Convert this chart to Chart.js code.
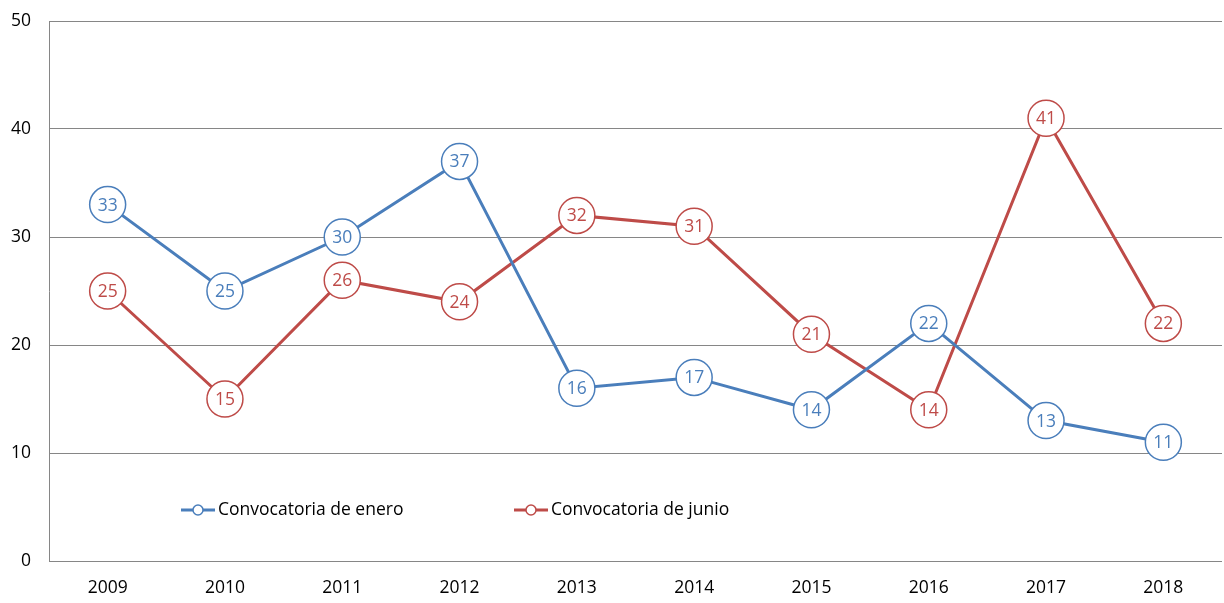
<!DOCTYPE html>
<html>
<head>
<meta charset="utf-8">
<script src="https://cdn.jsdelivr.net/npm/chart.js@4.4.0/dist/chart.umd.min.js"></script>
<style>
html,body{margin:0;padding:0;background:#fff;}
#wrap{width:1224px;height:603px;position:relative;}
</style>
</head>
<body>
<div id="wrap"><canvas id="c" width="1224" height="603"></canvas></div>
<script>
const categories = ['2009','2010','2011','2012','2013','2014','2015','2016','2017','2018'];
const enero = [33,25,30,37,16,17,14,22,13,11];
const junio = [25,15,26,24,32,31,21,14,41,22];
const seriesLabels = ['Convocatoria de enero','Convocatoria de junio'];
const yTicks = [0,10,20,30,40,50];

const BLUE = '#4A7EBB';
const RED = '#BE4B48';
const FONT = "'Open Sans', 'Liberation Sans', sans-serif";

const valueLabels = {
  id: 'valueLabels',
  afterDatasetsDraw(chart) {
    const ctx = chart.ctx;
    ctx.save();
    ctx.font = '17.5px ' + FONT;
    ctx.textAlign = 'center';
    ctx.textBaseline = 'middle';
    chart.data.datasets.forEach((ds, i) => {
      const meta = chart.getDatasetMeta(i);
      meta.data.forEach((pt, j) => {
        ctx.fillStyle = ds.borderColor;
        ctx.fillText(String(ds.data[j]), pt.x, pt.y + 1);
      });
    });
    ctx.restore();
  }
};

const innerLegend = {
  id: 'innerLegend',
  afterDraw(chart) {
    const ctx = chart.ctx;
    const a = chart.chartArea;
    const y = a.top + 489;
    const starts = [a.left + 132, a.left + 465];
    ctx.save();
    ctx.font = '17.5px ' + FONT;
    ctx.textBaseline = 'middle';
    ctx.textAlign = 'left';
    chart.data.datasets.forEach((ds, i) => {
      const x0 = starts[i];
      ctx.strokeStyle = ds.borderColor;
      ctx.lineWidth = 3;
      ctx.beginPath();
      ctx.moveTo(x0, y);
      ctx.lineTo(x0 + 34, y);
      ctx.stroke();
      ctx.beginPath();
      ctx.arc(x0 + 17, y, 5, 0, Math.PI * 2);
      ctx.fillStyle = '#fff';
      ctx.fill();
      ctx.lineWidth = 1.5;
      ctx.stroke();
      ctx.fillStyle = '#000';
      ctx.fillText(ds.label, x0 + 37, y);
    });
    ctx.restore();
  }
};

new Chart(document.getElementById('c'), {
  type: 'line',
  data: {
    labels: categories,
    datasets: [
      {
        label: seriesLabels[0],
        data: enero,
        borderColor: BLUE,
        backgroundColor: '#fff',
        borderWidth: 3,
        pointRadius: 18,
        pointHoverRadius: 18,
        pointBorderWidth: 1.5,
        pointBackgroundColor: '#fff',
        pointBorderColor: BLUE,
        tension: 0
      },
      {
        label: seriesLabels[1],
        data: junio,
        borderColor: RED,
        backgroundColor: '#fff',
        borderWidth: 3,
        pointRadius: 18,
        pointHoverRadius: 18,
        pointBorderWidth: 1.5,
        pointBackgroundColor: '#fff',
        pointBorderColor: RED,
        tension: 0
      }
    ]
  },
  options: {
    responsive: false,
    animation: false,
    events: [],
    layout: { autoPadding: false, padding: { top: 21, right: 2, left: 0, bottom: 0 } },
    plugins: {
      legend: { display: false },
      tooltip: { enabled: false }
    },
    scales: {
      x: {
        offset: true,
        grid: { display: false, drawTicks: false },
        border: { display: false },
        ticks: { color: '#000', font: { size: 17.5, family: FONT }, padding: 17 },
        afterFit(s) { s.height = 42; s.paddingLeft = 0; s.paddingRight = 0; }
      },
      y: {
        min: 0, max: 50,
        afterBuildTicks(s) { s.ticks = yTicks.map(v => ({ value: v })); },
        grid: { color: '#868686', lineWidth: 1, drawTicks: false },
        border: { display: true, color: '#868686', width: 1 },
        ticks: { color: '#000', font: { size: 17.5, family: FONT }, padding: 18 },
        afterFit(s) { s.width = 49; s.paddingTop = 0; s.paddingBottom = 0; }
      }
    }
  },
  plugins: [valueLabels, innerLegend]
});
</script>
</body>
</html>
